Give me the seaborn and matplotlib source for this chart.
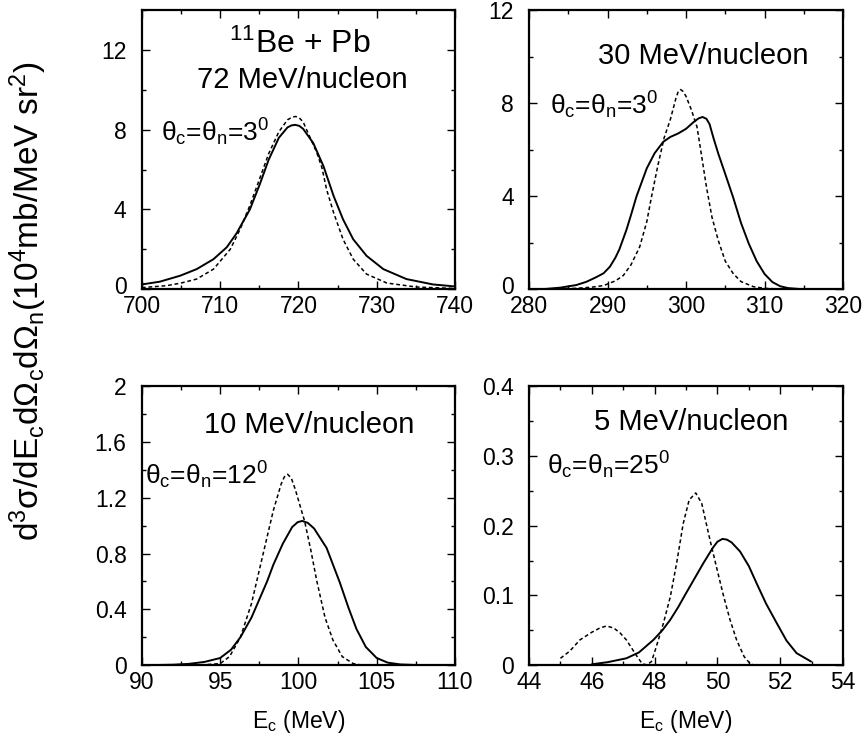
import matplotlib
matplotlib.use("Agg")
import matplotlib.pyplot as plt
import pandas as pd
import seaborn as sns
from matplotlib.ticker import MultipleLocator, FormatStrFormatter
from matplotlib.transforms import ScaledTranslation

# 72 MeV/nucleon, theta = 3 deg
e72_solid = [700, 702.3, 704.9, 707, 709.15, 710.85, 712.1, 713.8, 715.1, 716.2, 717.5, 718.6,
             719.1, 719.57, 720.1, 720.6, 721.9, 723.2, 724.5, 725.7, 727, 728.7, 730.85, 733.8,
             737.2, 740]
s72_solid = [0.23, 0.37, 0.67, 1.0, 1.5, 2.1, 2.8, 4.0, 5.3, 6.5, 7.6, 8.12,
             8.22, 8.25, 8.2, 8.05, 7.33, 6.17, 4.67, 3.5, 2.5, 1.67, 1.0, 0.5,
             0.23, 0.13]
e72_dash = [700, 703.2, 705, 707, 709.15, 711.3, 712.55, 713.8, 715.1, 716.2, 717.5, 718.6,
            719.2, 719.66, 720.1, 720.6, 721.5, 722.3, 723.0, 723.6, 724.5, 725.7, 727, 728.7,
            731.3, 735.1, 740]
s72_dash = [0.07, 0.17, 0.3, 0.5, 1.0, 2.0, 3.0, 4.2, 5.6, 6.8, 7.9, 8.5,
            8.64, 8.67, 8.6, 8.4, 7.6, 6.9, 6.1, 5.0, 3.83, 2.5, 1.5, 0.75,
            0.3, 0.1, 0.03]

# 30 MeV/nucleon, theta = 3 deg
e30_solid = [282, 284, 286, 287.3, 288.5, 289.5, 290.3, 291, 291.5, 292.4, 293, 293.7, 295, 296,
             297.1, 298, 299, 300, 301, 301.6, 302.1, 302.6, 303, 303.5, 304.1, 305, 306, 307,
             308, 309, 310, 311, 312, 313, 314.5]
s30_solid = [0.0, 0.06, 0.17, 0.31, 0.5, 0.68, 0.96, 1.35, 1.7, 2.54, 3.2, 4.0, 5.2, 5.85,
             6.34, 6.55, 6.7, 6.9, 7.2, 7.35, 7.41, 7.33, 7.1, 6.5, 5.84, 4.95, 3.95, 2.85,
             1.95, 1.2, 0.65, 0.3, 0.12, 0.04, 0.0]
e30_dash = [283, 286, 288, 289.5, 291, 292, 293, 294.1, 295, 295.6, 296.4, 297.2, 298, 298.7,
            299.0, 299.3, 299.6, 300, 300.7, 301.4, 302, 302.6, 303.3, 304.1, 305, 306, 307,
            308.6, 310, 312]
s30_dash = [0.0, 0.03, 0.08, 0.15, 0.35, 0.58, 1.05, 1.82, 2.9, 3.97, 5.3, 6.5, 7.3, 8.2,
            8.5, 8.59, 8.52, 8.3, 7.7, 6.98, 5.7, 4.4, 3.1, 2.1, 1.2, 0.67, 0.32,
            0.1, 0.03, 0.0]

# 10 MeV/nucleon, theta = 12 deg
e10_solid = [91, 92, 93, 94, 95, 95.7, 96.3, 97, 97.5, 98, 98.4, 99, 99.6, 99.95, 100.24, 100.6,
             101, 101.8, 102.65, 103.2, 103.7, 104.3, 105, 105.7, 106.5, 107.5]
s10_solid = [0.0, 0.002, 0.008, 0.022, 0.05, 0.11, 0.2, 0.34, 0.47, 0.6, 0.72, 0.87, 0.99, 1.025,
             1.034, 1.02, 0.98, 0.84, 0.59, 0.41, 0.26, 0.13, 0.05, 0.017, 0.004, 0.0]
e10_dash = [90, 92, 94, 95, 95.6, 96.3, 97, 97.5, 98, 98.4, 98.9, 99.1, 99.31, 99.55, 99.8,
            100.4, 100.8, 101.16, 101.7, 102.2, 102.8, 103.5, 104]
s10_dash = [0.0, 0.0, 0.002, 0.01, 0.06, 0.2, 0.44, 0.68, 0.92, 1.11, 1.3, 1.35, 1.369, 1.34, 1.26,
            1.03, 0.82, 0.61, 0.34, 0.18, 0.06, 0.01, 0.0]

# 5 MeV/nucleon, theta = 25 deg
e5_solid = [46, 46.5, 47.1, 47.5, 47.96, 48.25, 48.5, 48.75, 49, 49.55, 49.85, 50.0, 50.16, 50.3,
            50.45, 50.72, 51, 51.25, 51.55, 51.89, 52.2, 52.52, 52.98]
s5_solid = [0.001, 0.004, 0.0096, 0.018, 0.036, 0.05, 0.065, 0.083, 0.103, 0.146, 0.168, 0.177,
            0.181, 0.18, 0.176, 0.163, 0.142, 0.117, 0.088, 0.06, 0.035, 0.017, 0.005]
e5_dash = [45, 45.3, 45.62, 46, 46.25, 46.47, 46.7, 46.9, 47.1, 47.4, 47.6, 47.75, 47.9, 48.01,
           48.28, 48.5, 48.7, 48.91, 49.1, 49.31, 49.5, 49.76, 50, 50.19, 50.4, 50.61, 50.85,
           51.04, 51.15]
s5_dash = [0.0096, 0.02, 0.036, 0.047, 0.053, 0.056, 0.053, 0.046, 0.036, 0.015, 0.002, 0.0,
           0.005, 0.02, 0.06, 0.098, 0.146, 0.203, 0.237, 0.247, 0.232, 0.18, 0.135, 0.1,
           0.065, 0.036, 0.012, 0.002, 0.0]

sns.set_style("ticks", {"text.color": "black", "xtick.color": "black", "ytick.color": "black",
                        "axes.labelcolor": "black", "axes.edgecolor": "black"})
plt.rcParams["font.family"] = ["Liberation Sans", "DejaVu Sans"]
plt.rcParams["mathtext.fontset"] = "custom"
plt.rcParams["mathtext.rm"] = "Liberation Sans"
plt.rcParams["mathtext.it"] = "Liberation Sans"
plt.rcParams["mathtext.default"] = "regular"

fig = plt.figure(figsize=(8.65, 7.43), dpi=100)

panels = [
    # rect, solid, dashed, xlim, xmaj, xmin, ylim, ymaj, ymin
    ([0.164, 0.611, 0.362, 0.375], (e72_solid, s72_solid), (e72_dash, s72_dash),
     (700, 740), 10, 5, (0, 14), 4, 2),
    ([0.6116, 0.611, 0.363, 0.375], (e30_solid, s30_solid), (e30_dash, s30_dash),
     (280, 320), 10, 5, (0, 12), 4, 2),
    ([0.164, 0.105, 0.362, 0.375], (e10_solid, s10_solid), (e10_dash, s10_dash),
     (90, 110), 5, 2.5, (0, 2), 0.4, 0.2),
    ([0.6116, 0.105, 0.363, 0.375], (e5_solid, s5_solid), (e5_dash, s5_dash),
     (44, 54), 2, 1, (0, 0.4), 0.1, 0.05),
]

axes = []
for rect, solid, dashed, xlim, xmaj, xmin, ylim, ymaj, ymin in panels:
    ax = fig.add_axes(rect)
    df_s = pd.DataFrame({"E": solid[0], "sig": solid[1]})
    df_d = pd.DataFrame({"E": dashed[0], "sig": dashed[1]})
    sns.lineplot(data=df_s, x="E", y="sig", ax=ax, color="black", lw=1.4, sort=False)
    sns.lineplot(data=df_d, x="E", y="sig", ax=ax, color="black", lw=1.1,
                 linestyle=(0, (2.5, 1.8)), sort=False)
    ax.set_xlim(*xlim)
    ax.set_ylim(*ylim)
    ax.xaxis.set_major_locator(MultipleLocator(xmaj))
    ax.xaxis.set_minor_locator(MultipleLocator(xmin))
    ax.yaxis.set_major_locator(MultipleLocator(ymaj))
    ax.yaxis.set_minor_locator(MultipleLocator(ymin))
    ax.yaxis.set_major_formatter(FormatStrFormatter("%g"))
    ax.tick_params(which="both", direction="in", top=True, right=True, width=1.0)
    ax.tick_params(which="major", length=6, labelsize=16.5)
    ax.tick_params(axis="x", which="major", pad=4.5)
    ax.tick_params(axis="y", which="major", pad=11)
    ax.tick_params(which="minor", length=3)
    for sp in ax.spines.values():
        sp.set_linewidth(1.6)
    ax.set_xlabel("")
    ax.set_ylabel("")
    axes.append(ax)

ax1, ax2, ax3, ax4 = axes

# top row: labels 0..12, lift the "0" a little off the x labels
lift = ScaledTranslation(0, 3 / 72, fig.dpi_scale_trans)
for ax in (ax1, ax2):
    ax.set_yticks([0, 4, 8, 12])
    zero_lab = ax.yaxis.get_major_ticks()[0].label1
    zero_lab.set_transform(zero_lab.get_transform() + lift)

ax1.text(720.2, 12.3, "$^{11}$Be + Pb", fontsize=23, ha="center", va="center")
ax1.text(720.5, 10.5, "72 MeV/nucleon", fontsize=21, ha="center", va="center")
ax1.text(702.5, 7.85, "θ$_c$=θ$_n$=3$^0$", fontsize=19, ha="left", va="center")

ax2.text(302.2, 10.05, "30 MeV/nucleon", fontsize=21, ha="center", va="center")
ax2.text(282.7, 7.9, "θ$_c$=θ$_n$=3$^0$", fontsize=19, ha="left", va="center")

ax3.text(100.7, 1.72, "10 MeV/nucleon", fontsize=21, ha="center", va="center")
ax3.text(90.2, 1.36, "θ$_c$=θ$_n$=12$^0$", fontsize=19, ha="left", va="center")

ax4.text(49.18, 0.349, "5 MeV/nucleon", fontsize=21, ha="center", va="center")
ax4.text(44.56, 0.287, "θ$_c$=θ$_n$=25$^0$", fontsize=19, ha="left", va="center")

ax3.set_xlabel("E$_c$ (MeV)", fontsize=16.5, labelpad=10)
ax4.set_xlabel("E$_c$ (MeV)", fontsize=16.5, labelpad=10)

fig.text(0.033, 0.595, "d$^3$σ/dE$_c$dΩ$_c$dΩ$_n$(10$^4$mb/MeV sr$^2$)", rotation=90,
         fontsize=24, ha="center", va="center")

fig.savefig("out.png", dpi=100)
